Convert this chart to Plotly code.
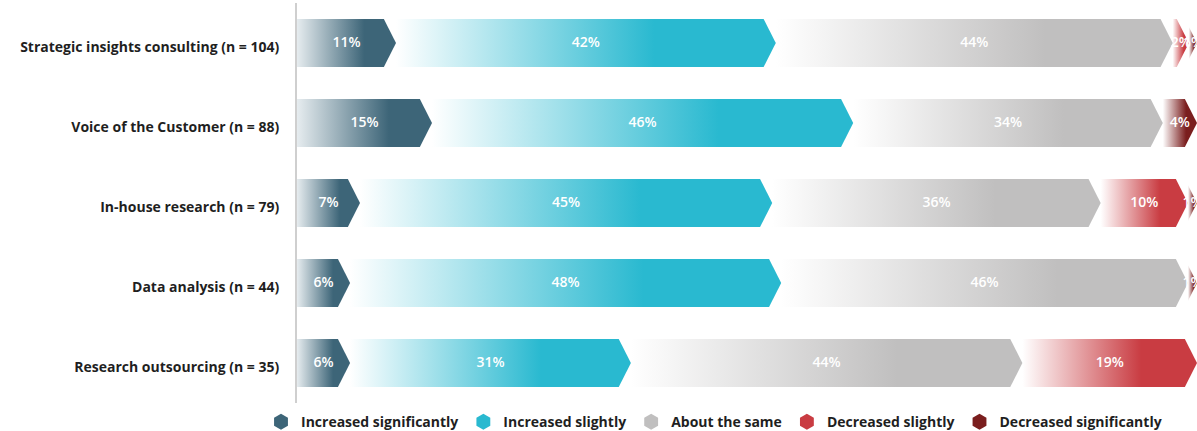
import plotly.graph_objects as go

# Categories (top to bottom)
categories = [
    "Strategic insights consulting (n = 104)",
    "Voice of the Customer (n = 88)",
    "In-house research (n = 79)",
    "Data analysis (n = 44)",
    "Research outsourcing (n = 35)",
]

series_names = [
    "Increased significantly",
    "Increased slightly",
    "About the same",
    "Decreased slightly",
    "Decreased significantly",
]
series_colors = ["#3d6578", "#29b9d0", "#c0bfbf", "#c93c42", "#7a1e1e"]

# Bar lengths (percent)
inc_sig = [11.0, 15.0, 7.0, 5.9, 5.9]
inc_slight = [42.2, 46.8, 45.8, 47.9, 31.2]
same = [44.1, 34.4, 36.5, 45.2, 43.5]
dec_slight = [1.8, 0.0, 9.7, 0.0, 19.4]
dec_sig = [0.9, 3.8, 1.0, 1.0, 0.0]

# Printed labels
inc_sig_lbl = ["11%", "15%", "7%", "6%", "6%"]
inc_slight_lbl = ["42%", "46%", "45%", "48%", "31%"]
same_lbl = ["44%", "34%", "36%", "46%", "44%"]
dec_slight_lbl = ["2%", "", "10%", "", "19%"]
dec_sig_lbl = ["1%", "4%", "1%", "1%", ""]

series_values = [inc_sig, inc_slight, same, dec_slight, dec_sig]
series_labels = [inc_sig_lbl, inc_slight_lbl, same_lbl, dec_slight_lbl, dec_sig_lbl]

FONT = "Open Sans"
ARROW = 1.35   # arrow depth in axis units
HALF = 0.3     # half bar height in category units

fig = go.Figure()

# cumulative starts/ends per row
starts = []
ends = []
for r in range(len(categories)):
    s_row, e_row = [], []
    acc = 0.0
    for vals in series_values:
        s_row.append(acc)
        acc += vals[r]
        e_row.append(acc)
    starts.append(s_row)
    ends.append(e_row)

# draw later segments first so arrows of earlier ones sit on top
for k in reversed(range(len(series_values))):
    color = series_colors[k]
    light = "#e6ecef" if k == 0 else "#ffffff"
    for r in range(len(categories)):
        if series_values[k][r] <= 0:
            continue
        x0 = starts[r][k]
        x1 = ends[r][k]
        xl = x0 - ARROW if k > 0 else x0
        xs = [xl, x1 - ARROW, x1, x1 - ARROW, xl, xl]
        ys = [r - HALF, r - HALF, r, r + HALF, r + HALF, r - HALF]
        fig.add_trace(go.Scatter(
            x=xs, y=ys, mode="lines", fill="toself",
            line=dict(width=0, color=color),
            fillgradient=dict(type="horizontal", start=x0, stop=x1,
                              colorscale=[[0, light], [0.68, color], [1, color]]),
            showlegend=False, hoverinfo="skip",
        ))

# value labels, centred on each segment
lx, ly, lt = [], [], []
for k in range(len(series_values)):
    for r in range(len(categories)):
        if series_labels[k][r]:
            lx.append((starts[r][k] + ends[r][k]) / 2)
            ly.append(r)
            lt.append(series_labels[k][r])
fig.add_trace(go.Scatter(
    x=lx, y=ly, text=lt, mode="text", cliponaxis=True,
    textfont=dict(family=FONT, size=14, color="white", weight=600),
    showlegend=False, hoverinfo="skip",
))

# legend entries
for name, color in zip(series_names, series_colors):
    fig.add_trace(go.Scatter(
        x=[None], y=[None], mode="markers", name=name,
        marker=dict(symbol="hexagon", size=19, color=color),
    ))

fig.update_xaxes(range=[0, 100], showgrid=False, zeroline=False,
                 showticklabels=False, fixedrange=True, automargin=False)
fig.update_yaxes(range=[len(categories) - 0.5, -0.5], showgrid=False, zeroline=False,
                 tickvals=list(range(len(categories))), ticktext=categories,
                 tickfont=dict(family=FONT, size=14, color="#1f1f1f", weight=700),
                 ticklabelstandoff=13, ticklabelshift=-4, automargin=False,
                 showline=True, linecolor="#cfcfcf", linewidth=2)

fig.update_layout(
    width=1197, height=431,
    margin=dict(l=297, r=0, t=3, b=28, autoexpand=False),
    plot_bgcolor="white", paper_bgcolor="white",
    legend=dict(orientation="h", x=-0.04, xanchor="left", y=-0.008, yanchor="top",
                font=dict(family=FONT, size=14, color="#1f1f1f", weight=700),
                itemwidth=30, tracegroupgap=0),
    showlegend=True,
)

# drop the default page margin so the figure fills the window exactly
fig.write_html("out.html", config={"displayModeBar": False},
               post_script="document.body.style.margin='0';")
